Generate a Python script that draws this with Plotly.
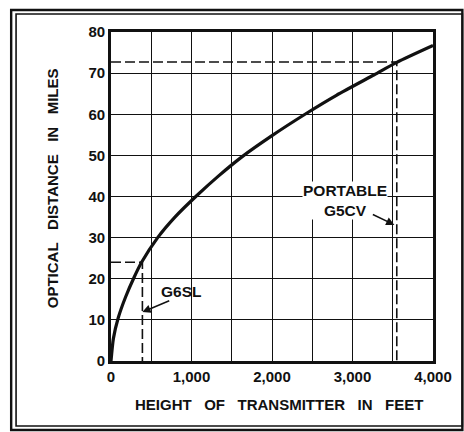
import plotly.graph_objects as go

# Optical (line-of-sight) distance against transmitter height
height_ft = [0, 30, 90, 180, 286, 380, 580, 800, 1070, 1330, 1630, 2000, 2410, 2800, 3270, 3550, 4000]
distance_mi = [0, 5.5, 10.5, 15.5, 20.3, 24, 30, 35.1, 40.3, 44.9, 49.7, 54.8, 60, 64.6, 69.6, 72.6, 76.7]

# Marked stations: (height, distance)
g6sl = (390, 24.0)
g5cv = (3550, 72.7)

# Gridlines every 500 ft, labels every 1,000 ft
x_ticks = [0, 500, 1000, 1500, 2000, 2500, 3000, 3500, 4000]
x_tick_text = ["0", "", "1,000", "", "2,000", "", "3,000", "", "4,000"]
y_ticks = [0, 10, 20, 30, 40, 50, 60, 70, 80]

W, H = 464, 432
L, R, T, B = 111, 24, 32, 71
PW, PH = W - L - R, H - T - B


def px_x(px):
    return (px - L) / PW


def px_y(py):
    return (H - B - py) / PH


FONT = "Liberation Sans, Arial, sans-serif"
INK = "#111111"

fig = go.Figure()

# Station reference lines (dashed)
for hx, dy in (g6sl, g5cv):
    fig.add_trace(go.Scatter(
        x=[0, hx, hx], y=[dy, dy, 0], mode="lines",
        line=dict(color=INK, width=1.6, dash="10px,4px"),
        hoverinfo="skip", showlegend=False,
    ))

# Main curve
fig.add_trace(go.Scatter(
    x=height_ft, y=distance_mi, mode="lines",
    line=dict(color=INK, width=3.2, shape="spline", smoothing=0.7),
    showlegend=False,
))

axis_common = dict(
    showgrid=True, gridcolor=INK, gridwidth=1.4,
    showline=True, linecolor=INK, linewidth=2.6, mirror=True,
    zeroline=False, ticks="",
    tickfont=dict(family=FONT, size=15, color=INK, weight="bold"),
)

fig.update_layout(
    width=W, height=H,
    margin=dict(l=L, r=R, t=T, b=B),
    paper_bgcolor="white", plot_bgcolor="white",
    xaxis=dict(range=[0, 4000], tickmode="array", tickvals=x_ticks,
               ticktext=x_tick_text, **axis_common),
    yaxis=dict(range=[0, 80], tickmode="array", tickvals=y_ticks, **axis_common),
)

SP = "\u00a0" * 3
title_font = dict(family=FONT, size=15, color=INK, weight="bold")
fig.add_annotation(
    xref="paper", yref="paper", x=px_x(283), y=px_y(405),
    xanchor="center", yanchor="middle",
    text=SP.join(["HEIGHT", "OF", "TRANSMITTER", "IN", "FEET"]),
    showarrow=False, font=title_font,
)
fig.add_annotation(
    xref="paper", yref="paper", x=px_x(52), y=px_y(188), textangle=-90,
    xanchor="center", yanchor="middle",
    text=SP.join(["OPTICAL", "DISTANCE", "IN", "MILES"]),
    showarrow=False, font=title_font,
)

label_font = dict(family=FONT, size=15.5, color=INK, weight="bold")

# G6SL label and pointer
fig.add_annotation(x=875, y=16.8, text="G6SL", showarrow=False, font=label_font)
fig.add_annotation(
    x=g6sl[0], y=11.9, ax=742, ay=14.8, axref="x", ayref="y", text="",
    showarrow=True, arrowhead=2, arrowsize=1.1, arrowwidth=1.5, arrowcolor=INK,
)

# Portable G5CV label and pointer
fig.add_annotation(
    x=2906, y=39.0, text="PORTABLE<br>G5CV", showarrow=False, font=label_font,
    bgcolor="white", borderpad=0,
)
fig.add_annotation(
    x=g5cv[0] - 30, y=33.1, ax=3234, ay=35.8, axref="x", ayref="y", text="",
    showarrow=True, arrowhead=2, arrowsize=1.1, arrowwidth=1.5, arrowcolor=INK,
)

# Double frame round the figure
for x0, y0, x1, y1, w in ((9, 10, 470, 430, 2.4), (14, 14, 470, 426, 1.6)):
    fig.add_shape(type="rect", xref="paper", yref="paper",
                  x0=px_x(x0), x1=px_x(x1), y0=px_y(y1), y1=px_y(y0),
                  line=dict(color=INK, width=w), fillcolor="rgba(0,0,0,0)",
                  layer="above")

fig.write_html("out.html")
